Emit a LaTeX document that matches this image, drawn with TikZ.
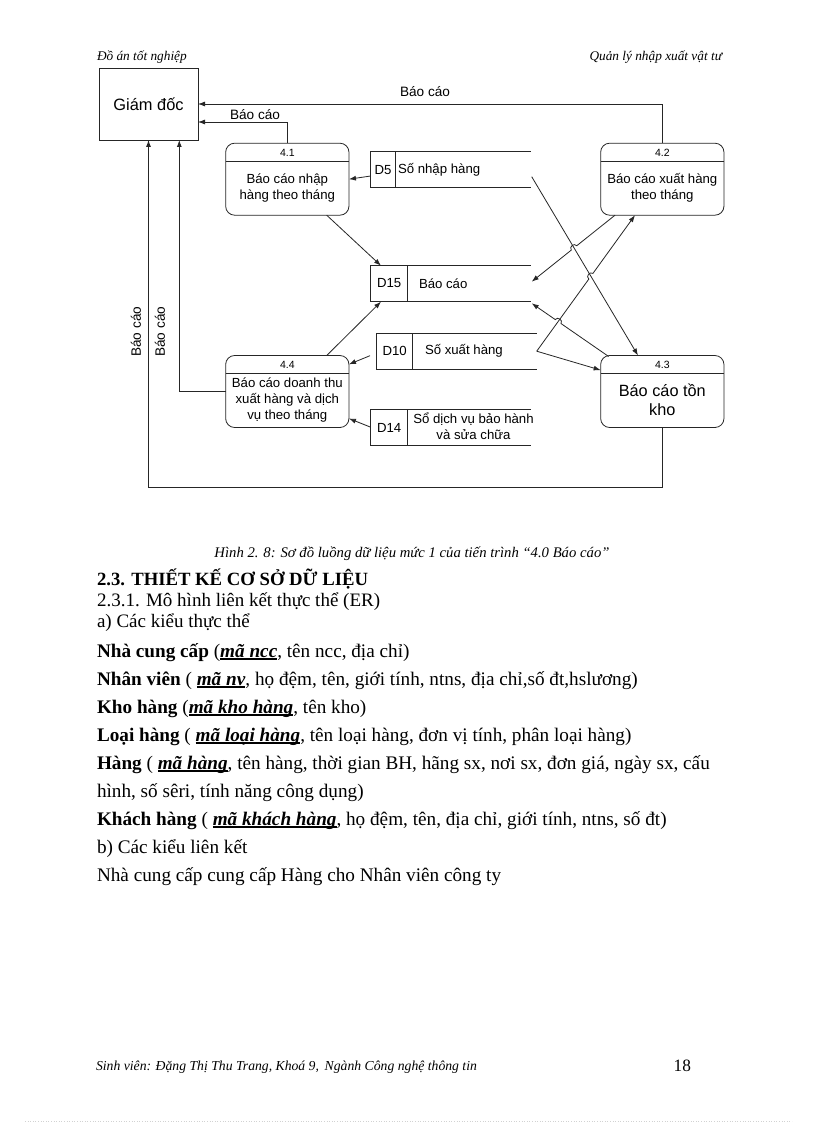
\documentclass[tikz,border=0pt]{standalone}
\usepackage{fontspec}
\setmainfont{Liberation Serif}
\newfontfamily\arialf{Liberation Sans}
\usetikzlibrary{arrows.meta,calc,intersections}
\newcommand{\myul}[1]{\setbox0\hbox{#1}\rlap{\rule[-2.6pt]{\wd0}{1.2pt}}\box0}
\newcommand{\keyw}[1]{\myul{\textbf{\textit{#1}}}}
\begin{document}
\begin{tikzpicture}[x=1pt,y=-1pt,
 every node/.style={inner sep=0pt,outer sep=0pt},
 ln/.style={draw=black!85,line width=0.8pt},
 arr/.style={ln,-{Latex[length=7pt,width=5pt]}},
 proc/.style={ln,rounded corners=9pt,minimum width=123.3pt,minimum height=72pt},
 store/.style={minimum width=160pt,minimum height=36pt},
 dtext/.style={font=\arialf\fontsize{13.2}{15.8}\selectfont,align=center},
 big/.style={font=\arialf\fontsize{16.3}{19.3}\selectfont,align=center},
 num/.style={font=\arialf\fontsize{10.5}{12}\selectfont},
 lab/.style={font=\arialf\fontsize{13.6}{16}\selectfont},
 body/.style={anchor=base west,font=\fontsize{19.2}{22}\selectfont},
 bodys/.style={anchor=base west,font=\fontsize{19}{22}\selectfont},
 hdr/.style={font=\itshape\fontsize{13.3}{16}\selectfont}
]
\useasboundingbox[fill=white] (0,0) rectangle (816,1123);

% header / footer
\node[hdr,anchor=base west] (h1) at (97,61) {Đồ án tốt nghiệp};
\node[hdr,anchor=base east] (h2) at (722,61) {Quản lý nhập xuất vật tư};
\node[hdr,anchor=base west,font=\itshape\fontsize{13.7}{16}\selectfont] (f1) at (96,1070) {Sinh viên: Đặng Thị Thu Trang, Khoá 9,\, Ngành Công nghệ thông tin};
\node[anchor=base east,font=\fontsize{17.3}{20}\selectfont] (f2) at (691,1071) {18};
\draw[gray!35,dotted,line width=0.6pt] (25,1121) -- (792,1121);

% external entity
\node[ln,minimum width=99pt,minimum height=72pt,font=\arialf\fontsize{16.4}{19}\selectfont] (gd) at (148.5,104) {Giám đốc};

% processes
\node[proc] (p41) at (287.3,179.2) {};
\node[proc] (p42) at (662.3,179.2) {};
\node[proc] (p43) at (662.3,391.5) {};
\node[proc] (p44) at (287.3,391.5) {};
\foreach \p/\n in {p41/4.1,p42/4.2,p43/4.3,p44/4.4}{
  \draw[ln] ($(\p.north west)+(0,18)$) -- ($(\p.north east)+(0,18)$);
  \node[num] (\p-n) at ($(\p.north)+(0,9.3)$) {\n};
}
\node[dtext] (p41t) at (287.3,188) {Báo cáo nhập\\hàng theo tháng};
\node[dtext] (p42t) at (662.3,188) {Báo cáo xuất hàng\\theo tháng};
\node[dtext] (p44t) at (287.3,400) {Báo cáo doanh thu\\xuất hàng và dịch\\vụ theo tháng};
\node[big] (p43t) at (662.3,399.7) {Báo cáo tồn\\kho};

% data stores
\node[store] (d5) at (450.7,169.7) {};
\node[store] (d15) at (450.7,283.7) {};
\node[store] (d10) at (456.7,351.2) {};
\node[store] (d14) at (450.7,427.2) {};
\foreach \d/\w in {d5/24.3,d15/37,d10/36,d14/37}{
  \draw[ln] (\d.north east) -- (\d.north west) -- (\d.south west) -- (\d.south east);
  \draw[ln] ($(\d.north west)+(\w,0)$) -- ($(\d.south west)+(\w,0)$);
}
\node[dtext] (d5i) at (383,170) {D5};
\node[dtext,anchor=west] (d5n) at (398,170) {Số nhập hàng};
\node[dtext] (d15i) at (389.2,283.5) {D15};
\node[dtext,anchor=west] (d15n) at (419,283.5) {Báo cáo};
\node[dtext] (d10i) at (394.7,351) {D10};
\node[dtext,anchor=west] (d10n) at (425,351) {Số xuất hàng};
\node[dtext] (d14i) at (389.2,427.5) {D14};
\node[dtext] (d14n) at (473.5,426.5) {Sổ dịch vụ bảo hành\\và sửa chữa};

% connectors to Giam doc
\draw[arr] (p42.north) |- (gd.east);
\node[lab] (l1) at (425,91.7) {Báo cáo};
\coordinate (gdin2) at ($(gd.east)+(0,18)$);
\draw[arr] (p41.north) |- (gdin2);
\node[lab] (l2) at (255,114.3) {Báo cáo};
\coordinate (gdin3) at ($(gd.south)+(30.8,0)$);
\draw[arr] (p44.west) -| (gdin3);
\coordinate (c43) at ($(p43.south)+(0,60)$);
\draw[arr] (p43.south) -- (c43) -| (gd.south);
\node[lab,rotate=90] (l3) at (136,331.7) {Báo cáo};
\node[lab,rotate=90] (l4) at (160,331.7) {Báo cáo};

% short data flows
\draw[arr] ($(d5.west)+(0,6.3)$) -- (p41.east);
\draw[arr] ($(p41.south)+(39.4,0)$) -- ($(d15.north west)+(10.3,0)$);
\draw[arr] ($(p44.north)+(39.4,0)$) -- ($(d15.south west)+(10.3,0)$);
\draw[arr] ($(d10.west)+(-6.7,4.5)$) -- ($(p44.east)+(0,-27.2)$);
\draw[arr] (d14.west) -- ($(p44.east)+(0,27)$);

% crossing flows
\coordinate (a1) at ($(d5.east)+(1,7)$);
\coordinate (b1) at ($(p43.north)+(-24.3,0)$);
\coordinate (a2) at ($(p42.south)+(-47.3,0)$);
\coordinate (b2) at ($(d15.east)+(1,-2)$);
\coordinate (a3) at (d10.east);
\coordinate (b3) at ($(p42.south)+(-27.3,0)$);
\coordinate (a4) at ($(p43.north west)+(8,1)$);
\coordinate (b4) at ($(d15.south east)+(1,1.6)$);
\coordinate (b5) at ($(p43.west)+(0,-21.4)$);
\path[name path=pl1] (a1) -- (b1);
\path[name path=pl2] (a2) -- (b2);
\path[name path=pl3] (a3) -- (b3);
\path[name path=pl4] (a4) -- (b4);
\path[name intersections={of=pl1 and pl2,by=x12}];
\path[name intersections={of=pl1 and pl3,by=x13}];
\path[name intersections={of=pl3 and pl4,by=x34}];
\draw[arr] (a1) -- (b1);
\draw[arr] (a2) -- ($(x12)!3.5pt!(a2)$) to[bend right=90,looseness=1.5] ($(x12)!3.5pt!(b2)$) -- (b2);
\draw[arr] (a3) -- ($(x13)!3.5pt!(a3)$) to[bend left=90,looseness=1.5] ($(x13)!3.5pt!(b3)$) -- (b3);
\draw[arr] (a4) -- ($(x34)!3.5pt!(a4)$) to[bend right=90,looseness=1.5] ($(x34)!3.5pt!(b4)$) -- (b4);
\draw[arr] (a3) -- (b5);

% caption and body text
\node[font=\itshape\fontsize{14.7}{17}\selectfont,anchor=base] (cap) at (412,557) {Hình 2. 8: Sơ đồ luồng dữ liệu mức 1 của tiến trình “4.0 Báo cáo”};
\node[anchor=base west,font=\fontsize{18.7}{22}\selectfont] (t1) at (97,585) {\textbf{2.3. THIẾT KẾ CƠ SỞ DỮ LIỆU}};
\node[bodys] (t2) at (97,606) {2.3.1. Mô hình liên kết thực thể (ER)};
\node[bodys] (t3) at (97,627) {a) Các kiểu thực thể};
\node[body] (t4) at (97,657) {\textbf{Nhà cung cấp} (\keyw{mã ncc}, tên ncc, địa chỉ)};
\node[body] (t5) at (97,685) {\textbf{Nhân viên} ( \keyw{mã nv}, họ đệm, tên, giới tính, ntns, địa chỉ,số đt,hslương)};
\node[body] (t6) at (97,713) {\textbf{Kho hàng} (\keyw{mã kho hàng}, tên kho)};
\node[body] (t7) at (97,741) {\textbf{Loại hàng} ( \keyw{mã loại hàng}, tên loại hàng, đơn vị tính, phân loại hàng)};
\node[body] (t8) at (97,769) {\textbf{Hàng} ( \keyw{mã hàng}, tên hàng, thời gian BH, hãng sx, nơi sx, đơn giá, ngày sx, cấu};
\node[body] (t9) at (97,797) {hình, số sêri, tính năng công dụng)};
\node[body] (t10) at (97,825) {\textbf{Khách hàng} ( \keyw{mã khách hàng}, họ đệm, tên, địa chỉ, giới tính, ntns, số đt)};
\node[body] (t11) at (97,853) {b) Các kiểu liên kết};
\node[body] (t12) at (97,881) {Nhà cung cấp cung cấp Hàng cho Nhân viên công ty};
\end{tikzpicture}
\end{document}
